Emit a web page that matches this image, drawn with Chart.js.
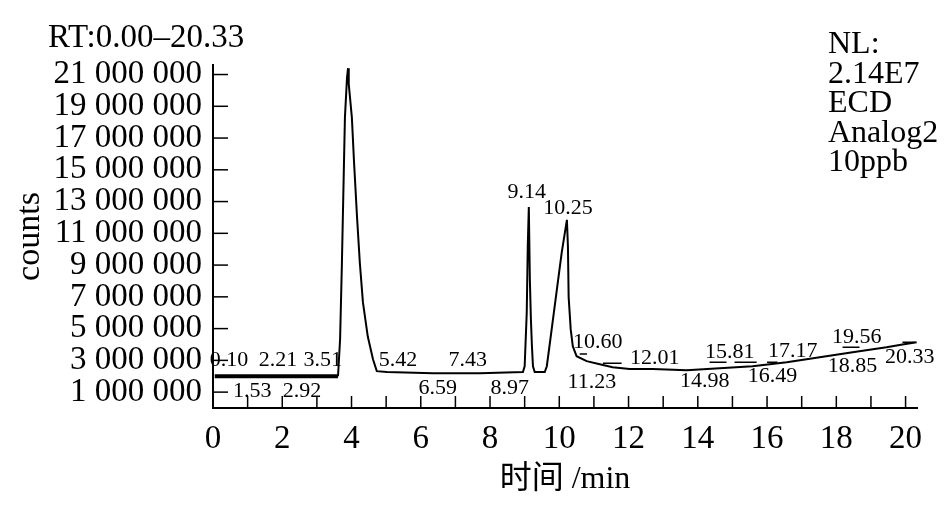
<!DOCTYPE html>
<html>
<head>
<meta charset="utf-8">
<script src="https://cdn.jsdelivr.net/npm/chart.js@4.4.0/dist/chart.umd.min.js"></script>
<style>
  html, body { margin: 0; padding: 0; background: #fff; }
  #wrap { width: 945px; height: 520px; position: relative; }
</style>
</head>
<body>
<div id="wrap"><canvas id="chromChart"></canvas></div>
<script>
// Chromatogram trace: retention time (min) and signal (millions of counts)
const retentionTimes = [0.05, 2.5, 3.61, 3.67, 3.72, 3.78, 3.81, 3.87, 3.90, 3.92,
  4.01, 4.07, 4.16, 4.24, 4.33, 4.47, 4.62, 4.73, 5.02, 6.35,
  7.71, 8.95, 9.00, 9.06, 9.09, 9.12, 9.15, 9.18, 9.21, 9.24,
  9.29, 9.58, 9.64, 9.78, 9.93, 10.07, 10.22, 10.25, 10.27, 10.33,
  10.39, 10.50, 10.79, 11.17, 11.54, 12.03, 12.70, 13.68, 14.63, 15.58,
  16.57, 17.52, 18.47, 19.45, 19.91, 20.32];
const signalMillions = [2.0, 2.0, 2.0, 4.33, 8.9, 15.2, 18.3, 20.8, 21.4, 20.4,
  18.3, 15.6, 12.0, 9.15, 6.65, 4.5, 3.07, 2.32, 2.26, 2.19,
  2.19, 2.26, 2.63, 6.0, 10.2, 12.66, 8.1, 5.6, 3.9, 2.63,
  2.26, 2.26, 2.63, 4.95, 7.46, 9.78, 11.85, 10.16, 7.0, 4.95,
  3.89, 3.26, 2.95, 2.76, 2.57, 2.45, 2.45, 2.38, 2.51, 2.63,
  2.88, 3.2, 3.51, 3.82, 4.0, 4.14];

// integration baseline marks
const markStart = [10.59, 11.26, 14.34, 15.06, 16.0, 18.18, 19.91];
const markEnd = [10.80, 11.80, 14.83, 15.70, 16.3, 18.67, 20.26];
const markLevel = [3.4, 2.82, 2.88, 2.88, 2.88, 3.82, 4.14];

// peak / retention labels, anchored in data units
const peakLabels = ['0.10', '2.21', '3.51', '1.53', '2.92', '5.42', '7.43', '6.59', '8.97',
  '9.14', '10.25', '10.60', '11.23', '12.01', '14.98', '15.81', '16.49', '17.17',
  '18.85', '19.56', '20.33'];
const peakLabelTimes = [0.46, 1.88, 3.17, 1.13, 2.57, 5.34, 7.36, 6.49, 8.57,
  9.06, 10.25, 11.11, 10.94, 12.76, 14.2, 14.92, 16.16, 16.74,
  18.47, 18.59, 20.12];
const peakLabelLevels = [3.01, 3.01, 3.01, 1.07, 1.07, 3.01, 3.01, 1.25, 1.25,
  13.6, 12.6, 4.14, 1.63, 3.13, 1.69, 3.51, 2.0, 3.57,
  2.63, 4.45, 3.2];

const xTickValues = [0, 1, 2, 3, 4, 5, 6, 7, 8, 9, 10, 11, 12, 13, 14, 15, 16, 17, 18, 19, 20];
const yTickValues = [1, 3, 5, 7, 9, 11, 13, 15, 17, 19, 21];

const rangeTitle = 'RT:0.00\u201320.33';
const infoLines = ['NL:', '2.14E7', 'ECD', 'Analog2', '10ppb'];

const SERIF = '"Liberation Serif", "Noto Sans CJK SC", serif';

function formatCounts(m) {
    return String(Math.round(m * 1000000)).replace(/\B(?=(\d{3})+(?!\d))/g, ' ');
}

const traceData = retentionTimes.map((t, i) => ({ x: t, y: signalMillions[i] }));
const markData = [];
markStart.forEach((s, i) => {
    markData.push({ x: s, y: markLevel[i] });
    markData.push({ x: markEnd[i], y: markLevel[i] });
    markData.push({ x: markEnd[i], y: null });
});

const decorPlugin = {
    id: 'decor',
    afterDraw(chart) {
        const { ctx, scales: { x, y } } = chart;
        ctx.save();
        ctx.strokeStyle = '#000';
        ctx.fillStyle = '#000';
        ctx.lineWidth = 1.5;

        // inward tick marks
        xTickValues.forEach(v => {
            if (v === 0) return;
            const px = x.getPixelForValue(v);
            ctx.beginPath();
            ctx.moveTo(px, y.bottom);
            ctx.lineTo(px, y.bottom - 12);
            ctx.stroke();
        });
        yTickValues.forEach(v => {
            const py = y.getPixelForValue(v);
            ctx.beginPath();
            ctx.moveTo(x.left, py);
            ctx.lineTo(x.left + 15, py);
            ctx.stroke();
        });

        // retention time labels
        ctx.font = '22px ' + SERIF;
        ctx.textAlign = 'center';
        ctx.textBaseline = 'middle';
        peakLabels.forEach((s, i) => {
            ctx.fillText(s, x.getPixelForValue(peakLabelTimes[i]), y.getPixelForValue(peakLabelLevels[i]));
        });

        // header texts
        ctx.font = '33px ' + SERIF;
        ctx.textAlign = 'left';
        ctx.fillText(rangeTitle, 48, 38);
        ctx.font = '32px ' + SERIF;
        infoLines.forEach((s, i) => {
            ctx.fillText(s, 828, 45 + i * 29.5);
        });
        ctx.restore();
    }
};

const ctx = document.getElementById('chromChart').getContext('2d');
new Chart(ctx, {
    type: 'line',
    data: {
        datasets: [
            {
                data: traceData,
                borderColor: '#000',
                borderWidth: 2,
                pointRadius: 0,
                tension: 0,
                segment: {
                    borderWidth: c => (c.p1.parsed.x <= 3.62 ? 4 : 2)
                }
            },
            {
                data: markData,
                borderColor: '#000',
                borderWidth: 1.5,
                pointRadius: 0,
                spanGaps: false
            }
        ]
    },
    options: {
        responsive: true,
        maintainAspectRatio: false,
        animation: false,
        events: [],
        layout: {
            autoPadding: false,
            padding: { top: 65, right: 28, left: 0, bottom: 0 }
        },
        plugins: {
            legend: { display: false },
            tooltip: { enabled: false }
        },
        scales: {
            x: {
                type: 'linear',
                min: 0,
                max: 20.33,
                grid: { display: false, drawTicks: false },
                border: { display: true, color: '#000', width: 2 },
                afterBuildTicks: s => { s.ticks = xTickValues.map(v => ({ value: v })); },
                afterFit: s => { s.height = 112; },
                ticks: {
                    autoSkip: false,
                    maxRotation: 0,
                    padding: 12,
                    color: '#000',
                    font: { family: SERIF, size: 33 },
                    callback: v => (v % 2 === 0 ? String(v) : '')
                },
                title: {
                    display: true,
                    text: '时间 /min',
                    color: '#000',
                    font: { family: SERIF, size: 32 },
                    padding: { top: 0, bottom: 21 }
                }
            },
            y: {
                type: 'linear',
                min: 0,
                max: 21.6,
                grid: { display: false, drawTicks: false },
                border: { display: true, color: '#000', width: 2 },
                afterBuildTicks: s => { s.ticks = yTickValues.map(v => ({ value: v })); },
                afterFit: s => { s.width = 213; },
                ticks: {
                    autoSkip: false,
                    padding: 11,
                    color: '#000',
                    font: { family: SERIF, size: 33 },
                    callback: v => formatCounts(v)
                },
                title: {
                    display: true,
                    text: 'counts',
                    color: '#000',
                    font: { family: SERIF, size: 34 },
                    padding: { top: 10, bottom: 10 }
                }
            }
        }
    },
    plugins: [decorPlugin]
});
</script>
</body>
</html>
